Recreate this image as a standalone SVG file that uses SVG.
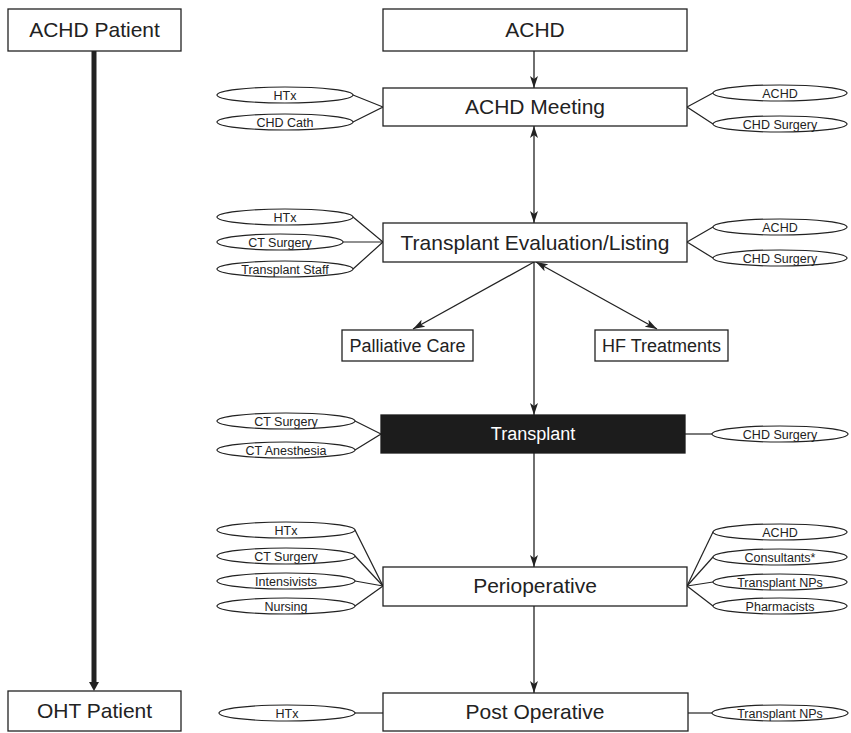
<svg xmlns="http://www.w3.org/2000/svg" width="851" height="733" viewBox="0 0 851 733">
<defs>
<style>
.box{fill:#fff;stroke:#222;stroke-width:1.3}
.dark{fill:#1c1c1c;stroke:#1c1c1c;stroke-width:1.3}
.ell{fill:#fff;stroke:#222;stroke-width:1.2}
.t{font-family:"Liberation Sans",Arial,sans-serif;font-size:21px;fill:#222;text-anchor:middle}
.tm{font-family:"Liberation Sans",Arial,sans-serif;font-size:18px;fill:#222;text-anchor:middle}
.tw{font-family:"Liberation Sans",Arial,sans-serif;font-size:18px;fill:#fff;text-anchor:middle}
.te{font-family:"Liberation Sans",Arial,sans-serif;font-size:12.5px;fill:#222;text-anchor:middle}
.ln{stroke:#222;stroke-width:1.2;fill:none}
.ar{stroke:#222;stroke-width:1.3;fill:none;marker-end:url(#ah)}
.ar2{stroke:#222;stroke-width:1.3;fill:none;marker-end:url(#ah);marker-start:url(#ah)}
</style>
<marker id="ah" viewBox="0 0 12 8" refX="12" refY="4" markerWidth="12" markerHeight="8" markerUnits="userSpaceOnUse" orient="auto-start-reverse">
<path d="M0,0 L12,4 L0,8 L3,4 z" fill="#222"/>
</marker>
</defs>

<g id="connectors">
<line x1="94" y1="51" x2="94" y2="682" stroke="#222" stroke-width="5"/>
<path d="M89,682 L99,682 L94,691 z" fill="#222"/>
<line class="ar" x1="534" y1="51" x2="534" y2="88"/>
<line class="ar2" x1="534" y1="126" x2="534" y2="223"/>
<line class="ar" x1="534" y1="262" x2="413" y2="329"/>
<line class="ar2" x1="536" y1="262" x2="657" y2="329"/>
<line class="ar" x1="534" y1="262" x2="534" y2="415"/>
<line class="ar" x1="534" y1="453" x2="534" y2="567"/>
<line class="ar" x1="534" y1="606" x2="534" y2="693"/>
<polyline class="ln" points="353,95 383,107 353,122"/>
<polyline class="ln" points="713,93 687,107 713,124"/>
<polyline class="ln" points="353,217 383,242 353,269"/>
<line class="ln" x1="343" y1="242" x2="383" y2="242"/>
<polyline class="ln" points="713,227 687,242 713,258"/>
<polyline class="ln" points="355,421 381,434 355,450"/>
<line class="ln" x1="685" y1="434" x2="712" y2="434"/>
<line class="ln" x1="355" y1="530" x2="383" y2="586"/>
<line class="ln" x1="355" y1="556" x2="383" y2="586"/>
<line class="ln" x1="355" y1="581" x2="383" y2="586"/>
<line class="ln" x1="355" y1="606" x2="383" y2="586"/>
<line class="ln" x1="713" y1="532" x2="687" y2="586"/>
<line class="ln" x1="713" y1="557" x2="687" y2="586"/>
<line class="ln" x1="713" y1="582" x2="687" y2="586"/>
<line class="ln" x1="713" y1="606" x2="687" y2="586"/>
<line class="ln" x1="355" y1="713" x2="383" y2="713"/>
<line class="ln" x1="688" y1="713" x2="712" y2="713"/>
</g>

<g id="achd-patient"><rect class="box" x="8" y="9" width="173" height="42"/><text class="t" x="94.5" y="37">ACHD Patient</text></g>
<g id="oht-patient"><rect class="box" x="8" y="691" width="173" height="40"/><text class="t" x="94.5" y="718">OHT Patient</text></g>

<g id="achd"><rect class="box" x="383" y="9" width="304" height="42"/><text class="t" x="535" y="37">ACHD</text></g>
<g id="achd-meeting"><rect class="box" x="383" y="88" width="304" height="38"/><text class="t" x="535" y="114">ACHD Meeting</text></g>
<g id="transplant-eval"><rect class="box" x="383" y="223" width="304" height="39"/><text class="t" x="535" y="250">Transplant Evaluation/Listing</text></g>
<g id="palliative"><rect class="box" x="342" y="330" width="131" height="31"/><text class="tm" x="407.5" y="352">Palliative Care</text></g>
<g id="hf"><rect class="box" x="595" y="330" width="133" height="31"/><text class="tm" x="661.5" y="352">HF Treatments</text></g>
<g id="transplant"><rect class="dark" x="381" y="415" width="304" height="38"/><text class="tw" x="533" y="440">Transplant</text></g>
<g id="perioperative"><rect class="box" x="383" y="567" width="304" height="39"/><text class="t" x="535" y="593">Perioperative</text></g>
<g id="postoperative"><rect class="box" x="383" y="693" width="305" height="38"/><text class="t" x="535" y="719">Post Operative</text></g>

<g id="e-meet-htx"><ellipse class="ell" cx="285" cy="95" rx="68" ry="8"/><text class="te" x="285" y="99.5">HTx</text></g>
<g id="e-meet-cath"><ellipse class="ell" cx="285" cy="122" rx="68" ry="8"/><text class="te" x="285" y="126.5">CHD Cath</text></g>
<g id="e-meet-achd"><ellipse class="ell" cx="780" cy="93" rx="67" ry="8"/><text class="te" x="780" y="97.5">ACHD</text></g>
<g id="e-meet-chds"><ellipse class="ell" cx="780" cy="124" rx="67" ry="8"/><text class="te" x="780" y="128.5">CHD Surgery</text></g>

<g id="e-eval-htx"><ellipse class="ell" cx="285" cy="217" rx="68" ry="8"/><text class="te" x="285" y="221.5">HTx</text></g>
<g id="e-eval-cts"><ellipse class="ell" cx="280" cy="242" rx="63" ry="8"/><text class="te" x="280" y="246.5">CT Surgery</text></g>
<g id="e-eval-staff"><ellipse class="ell" cx="285" cy="269" rx="68" ry="8"/><text class="te" x="285" y="273.5">Transplant Staff</text></g>
<g id="e-eval-achd"><ellipse class="ell" cx="780" cy="227" rx="67" ry="8"/><text class="te" x="780" y="231.5">ACHD</text></g>
<g id="e-eval-chds"><ellipse class="ell" cx="780" cy="258" rx="67" ry="8"/><text class="te" x="780" y="262.5">CHD Surgery</text></g>

<g id="e-tx-cts"><ellipse class="ell" cx="286" cy="421" rx="69" ry="8"/><text class="te" x="286" y="425.5">CT Surgery</text></g>
<g id="e-tx-cta"><ellipse class="ell" cx="286" cy="450" rx="69" ry="8"/><text class="te" x="286" y="454.5">CT Anesthesia</text></g>
<g id="e-tx-chds"><ellipse class="ell" cx="780" cy="434" rx="68" ry="8"/><text class="te" x="780" y="438.5">CHD Surgery</text></g>

<g id="e-po-htx"><ellipse class="ell" cx="286" cy="530" rx="69" ry="8"/><text class="te" x="286" y="534.5">HTx</text></g>
<g id="e-po-cts"><ellipse class="ell" cx="286" cy="556" rx="69" ry="8"/><text class="te" x="286" y="560.5">CT Surgery</text></g>
<g id="e-po-int"><ellipse class="ell" cx="286" cy="581" rx="69" ry="8"/><text class="te" x="286" y="585.5">Intensivists</text></g>
<g id="e-po-nur"><ellipse class="ell" cx="286" cy="606" rx="69" ry="8"/><text class="te" x="286" y="610.5">Nursing</text></g>
<g id="e-po-achd"><ellipse class="ell" cx="780" cy="532" rx="67" ry="8"/><text class="te" x="780" y="536.5">ACHD</text></g>
<g id="e-po-cons"><ellipse class="ell" cx="780" cy="557" rx="67" ry="8"/><text class="te" x="780" y="561.5">Consultants*</text></g>
<g id="e-po-nps"><ellipse class="ell" cx="780" cy="582" rx="67" ry="8"/><text class="te" x="780" y="586.5">Transplant NPs</text></g>
<g id="e-po-pharm"><ellipse class="ell" cx="780" cy="606" rx="67" ry="8"/><text class="te" x="780" y="610.5">Pharmacists</text></g>

<g id="e-post-htx"><ellipse class="ell" cx="287" cy="713" rx="68" ry="8"/><text class="te" x="287" y="717.5">HTx</text></g>
<g id="e-post-nps"><ellipse class="ell" cx="780" cy="713" rx="68" ry="8"/><text class="te" x="780" y="717.5">Transplant NPs</text></g>
</svg>
